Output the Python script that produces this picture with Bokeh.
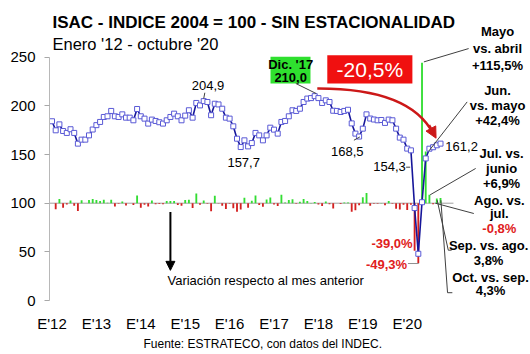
from bokeh.plotting import figure
from bokeh.models import Range1d, FixedTicker, Arrow, NormalHead, Title
from bokeh.core.properties import value
from bokeh.embed import file_html
from bokeh.resources import INLINE

FONT = "Liberation Sans"

# ---------------- data ----------------
year_labels = ["E'12", "E'13", "E'14", "E'15", "E'16", "E'17", "E'18", "E'19", "E'20"]
y_ticks = [0, 50, 100, 150, 200, 250]

# ISAC seasonally adjusted index (2004 = 100), Jan 2012 - Oct 2020
isac = [184.2, 174.9, 181.0, 174.2, 172.2, 176.0, 172.2, 161.2, 165.3, 165.3, 169.7, 175.7,   # 2012
        180.2, 183.5, 188.6, 189.3, 194.8, 189.3, 188.6, 191.3, 187.9, 187.9, 185.2, 196.8,   # 2013
        189.3, 186.9, 181.8, 185.9, 184.5, 183.2, 181.8, 185.2, 188.6, 192.0, 189.3, 185.2,   # 2014
        190.0, 195.5, 187.9, 203.0, 200.5, 204.9, 204.0, 190.4, 202.2, 201.5, 197.1, 187.9,   # 2015
        186.9, 179.0, 166.3, 157.7, 164.6, 158.4, 161.8, 172.2, 169.7, 164.6, 169.7, 177.6,   # 2016
        175.6, 171.5, 183.5, 184.5, 189.3, 195.5, 194.8, 197.1, 204.0, 207.5, 208.0, 210.0,   # 2017
        208.0, 203.0, 205.7, 204.0, 195.0, 194.8, 193.7, 194.8, 196.0, 182.0, 171.5, 168.5,   # 2018
        176.6, 191.3, 187.0, 186.0, 185.2, 185.5, 182.5, 185.9, 185.2, 176.6, 167.4, 165.3,   # 2019
        156.1, 154.3, 95.0, 48.0, 101.0, 146.0, 156.0, 157.5, 159.5, 161.2]                   # 2020

# month-over-month variation (%), Feb 2012 - Oct 2020
variation = [-5.0, 3.5, -3.8, -1.1, 2.2, -2.2, -6.4, 2.5, 0.0, 2.7, 3.5,
             2.6, 1.8, 2.8, 0.4, 2.9, -2.8, -0.4, 1.4, -1.8, 0.0, -1.4, 6.3,
             -3.8, -1.3, -2.7, 2.3, -0.8, -0.7, -0.8, 1.9, 1.8, 1.8, -1.4, -2.2,
             2.6, 2.9, -3.9, 8.0, -1.2, 2.2, -0.4, -6.7, 6.2, -0.3, -2.2, -4.7,
             -0.5, -4.2, -7.1, -5.2, 4.4, -3.8, 2.1, 6.4, -1.5, -3.0, 3.1, 4.7,
             -1.1, -2.3, 7.0, 0.5, 2.6, 3.3, -0.4, 1.2, 3.5, 1.7, 0.2, 1.0,
             -1.0, -2.4, 1.3, -0.8, -4.4, -0.1, -0.6, 0.6, 0.6, -7.1, -5.8, -1.7,
             4.8, 8.3, -2.2, -0.5, -0.4, 0.2, -1.6, 1.9, -0.4, -4.6, -5.2, -1.3,
             -5.6, -1.2, -39.0, -49.3, 115.5, 42.4, 6.9, -0.8, 3.8, 4.3]

base = 100          # bars are drawn around the index level 100
bar_scale = 1.25    # index points per % of variation

months = list(range(len(isac)))

# ---------------- figure ----------------
p = figure(width=530, height=354, output_backend="svg", toolbar_location=None,
           x_range=Range1d(-0.676, 129.32), y_range=Range1d(0, 308.3),
           min_border_left=49, min_border_right=0, min_border_top=0, min_border_bottom=54)
p.outline_line_color = None
p.grid.visible = False
p.background_fill_color = "white"
p.border_fill_color = "white"

# y axis
p.yaxis.ticker = FixedTicker(ticks=y_ticks)
p.yaxis.bounds = (0, 250)
p.yaxis.axis_line_color = "#b8b8b8"
p.yaxis.major_tick_line_color = "#a8a8a8"
p.yaxis.major_tick_in = 0
p.yaxis.major_tick_out = 5
p.yaxis.minor_tick_line_color = None
p.yaxis.major_label_standoff = 9
p.yaxis.major_label_text_font = FONT
p.yaxis.major_label_text_font_size = "15px"
p.yaxis.major_label_text_color = "black"

# x axis
xt = [12 * i for i in range(len(year_labels))]
p.xaxis.ticker = FixedTicker(ticks=xt)
p.xaxis.major_label_overrides = {t: lab for t, lab in zip(xt, year_labels)}
p.xaxis.axis_line_color = None
p.xaxis.major_tick_line_color = None
p.xaxis.minor_tick_line_color = None
p.xaxis.major_tick_out = 0
p.xaxis.major_tick_in = 0
p.xaxis.major_label_standoff = 14
p.xaxis.major_label_text_font = FONT
p.xaxis.major_label_text_font_size = "15px"
p.xaxis.major_label_text_color = "black"

# footer
p.add_layout(Title(text="Fuente: ESTRATECO, con datos del INDEC.", align="left",
                   text_font=FONT, text_font_size="12px", text_font_style="normal",
                   text_color="black", standoff=0, offset=94), "below")

# baseline at 100
p.line([-1.8, 108.5], [base, base], line_color="#a0a0a0", line_width=1)

# variation bars
bx = months[1:]
tops = [base + bar_scale * v for v in variation]
cols = ["#33dd33" if v >= 0 else "#d42020" for v in variation]
p.vbar(x=bx, bottom=base, top=tops, width=0.5, fill_color=cols, line_color=None)

# index line
p.line(months, isac, line_color="#16169a", line_width=1.6)
p.scatter(months, isac, marker="square", size=5, fill_color="white",
          line_color="#5a5ad6", line_width=1)


def txt(x, y, s, size="13px", style="bold", color="black", align="center", baseline="middle"):
    p.text(x=[x], y=[y], text=[s], text_font=value(FONT), text_font_size=size,
           text_font_style=style, text_color=color, text_align=align, text_baseline=baseline)


def seg(xs, ys, color="#404040", w=1):
    p.line(xs, ys, line_color=color, line_width=w)


# title & subtitle
txt(0.135, 285.3, "ISAC - INDICE 2004 = 100 - SIN ESTACIONALIDAD", size="17px", align="left", baseline="alphabetic")
txt(0.135, 264.1, "Enero '12 - octubre '20", size="16.5px", style="normal", align="left", baseline="alphabetic")

# value labels
txt(42.16, 220.6, "204,9", style="normal")
seg([41.3, 41.0], [213.5, 207.5])
txt(51.8, 141.4, "157,7", style="normal")
txt(79.8, 152.7, "168,5", style="normal")
seg([81.6, 83.2], [164.7, 168.1])
txt(91.2, 137.3, "154,3", style="normal")
seg([95.7, 96.8], [137.0, 137.0])
txt(110.7, 158.6, "161,2", style="normal")
txt(91.9, 58.6, "-39,0%", color="#e02020")
txt(90.4, 37.3, "-49,3%", color="#e02020")
seg([96.2, 99.1], [38.0, 38.0], color="#909090")

# Dec '17 box
p.quad(left=59.05, right=69.86, bottom=223.0, top=250.4, fill_color="#2fe02f", line_color=None)
txt(64.5, 242.8, "Dic. '17")
txt(64.5, 229.5, "210,0")
seg([65.9, 71.4], [223.0, 212.7])

# -20,5% box
p.quad(left=74.4, right=97.4, bottom=223.0, top=252.1, fill_color="#f01010", line_color=None)
txt(85.9, 237.7, "-20,5%", size="21px", style="normal", color="white")

# red curved arrow
p.quadratic(x0=71.7, y0=217.9, x1=103.1, y1=170.9, cx=96.9, cy=218.2,
            line_color="#cc1818", line_width=2.5)
p.add_layout(Arrow(end=NormalHead(size=11, fill_color="#cc1818", line_color="#cc1818"),
                   x_start=101.9, y_start=180.3, x_end=103.8, y_end=166.8,
                   line_color="#cc1818", line_width=2.5))

# variation arrow & text
p.add_layout(Arrow(end=NormalHead(size=9, fill_color="black", line_color="black"),
                   x_start=32.0, y_start=91, x_end=32.0, y_end=31,
                   line_color="black", line_width=2))
txt(31.2, 20.9, "Variación respecto al mes anterior", style="normal", align="left")

# right-hand notes
for s, y in [("Mayo", 276.8), ("vs. abril", 259.3), ("+115,5%", 241.8)]:
    txt(120.4, y, s)
seg([112.6, 100.5], [258.9, 245.2])
for s, y in [("Jun.", 216.1), ("vs. mayo", 200.6), ("+42,4%", 185.2)]:
    txt(120.4, y, s)
seg([112.2, 101.8], [204.1, 153.4])
for s, y in [("Jul. vs.", 151.4), ("junio", 136.0), ("+6,9%", 120.6)]:
    txt(121.5, y, s)
seg([114.5, 102.2], [135.7, 108.6])
txt(120.9, 103.1, "Ago. vs.")
txt(120.9, 89.4, "jul.")
txt(120.9, 74.3, "-0,8%", color="#e02020")
seg([114.0, 103.6], [89.4, 100.0])
txt(118.0, 56.8, "Sep. vs. ago.")
txt(118.0, 41.4, "3,8%")
seg([104.1, 107.1, 108.0], [103.1, 51.7, 51.7])
txt(118.5, 23.9, "Oct. vs. sep.")
txt(118.5, 10.6, "4,3%")
seg([105.1, 106.9, 108.2], [103.0, 8.0, 8.0])

open("out.html", "w").write(file_html(p, INLINE))
